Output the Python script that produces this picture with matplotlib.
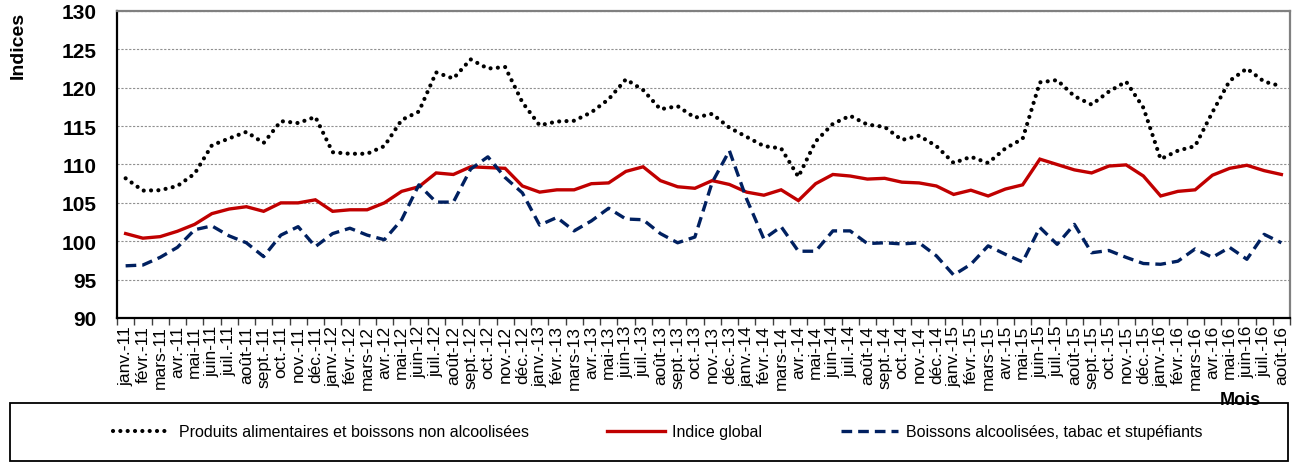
import numpy as np
import matplotlib
matplotlib.use("Agg")
import matplotlib.pyplot as plt
from matplotlib.patches import Rectangle

plt.rcParams['font.family'] = ['Liberation Sans', 'DejaVu Sans']

month_names = ["janv.", "févr.", "mars", "avr.", "mai", "juin", "juil.", "août",
               "sept.", "oct.", "nov.", "déc."]
years = ["11", "12", "13", "14", "15", "16"]
labels = [f"{m}-{y}" for y in years for m in month_names][:68]

alimentaires = [108.2, 106.6, 106.65, 107.2, 108.8, 112.5, 113.4, 114.25, 112.8, 115.65, 115.4, 116.2,
                111.6, 111.4, 111.4, 112.4, 115.8, 116.9, 122.0, 121.2, 123.7, 122.5, 122.7, 118.1,
                115.1, 115.6, 115.7, 116.8, 118.5, 121.1, 119.7, 117.2, 117.6, 116.1, 116.6, 114.8,
                113.6, 112.4, 112.1, 108.4, 113.0, 115.3, 116.35, 115.2, 114.9, 113.2, 113.75, 112.4,
                110.2, 111.0, 110.2, 112.1, 113.35, 120.7, 121.0, 118.9, 117.8, 119.5, 120.8, 117.4,
                110.7, 111.8, 112.4, 116.8, 120.9, 122.5, 120.8, 120.2]

global_idx = [101.0, 100.4, 100.6, 101.3, 102.2, 103.6, 104.2, 104.5, 103.9, 105.0, 105.0, 105.4,
              103.9, 104.1, 104.1, 105.0, 106.5, 107.1, 108.9, 108.7, 109.7, 109.6, 109.5, 107.2,
              106.4, 106.7, 106.7, 107.5, 107.6, 109.1, 109.7, 107.9, 107.1, 106.9, 107.9, 107.4,
              106.4, 106.0, 106.7, 105.3, 107.5, 108.7, 108.5, 108.1, 108.2, 107.7, 107.6, 107.2,
              106.1, 106.65, 105.9, 106.8, 107.35, 110.7, 110.0, 109.3, 108.9, 109.8, 109.95, 108.5,
              105.9, 106.5, 106.7, 108.6, 109.5, 109.9, 109.2, 108.7]

boissons = [96.8, 96.9, 97.9, 99.2, 101.5, 102.0, 100.7, 99.8, 98.0, 100.8, 101.9, 99.3,
            101.0, 101.7, 100.8, 100.2, 102.8, 107.35, 105.1, 105.1, 109.4, 111.0, 108.3, 106.3,
            102.1, 103.1, 101.35, 102.65, 104.3, 102.9, 102.8, 101.0, 99.8, 100.55, 107.65, 111.8,
            105.5, 100.3, 101.9, 98.7, 98.7, 101.35, 101.35, 99.7, 99.8, 99.65, 99.8, 98.1,
            95.6, 97.0, 99.4, 98.3, 97.3, 101.8, 99.6, 102.2, 98.5, 98.8, 97.9, 97.1,
            97.0, 97.4, 99.0, 97.9, 99.2, 97.65, 100.9, 99.8]

series_names = ["Produits alimentaires et boissons non alcoolisées", "Indice global",
                "Boissons alcoolisées, tabac et stupéfiants"]
y_ticks = [90, 95, 100, 105, 110, 115, 120, 125, 130]

W, H = 1294, 464
fig = plt.figure(figsize=(W / 100, H / 100), dpi=100)
ax = fig.add_axes([117 / W, 1 - 319 / H, (1290 - 117) / W, (319 - 12) / H])

x = np.arange(len(labels))
l1, = ax.plot(x, alimentaires, color='black', linewidth=3.0, linestyle=(0, (0.01, 1.75)),
              dash_capstyle='round', solid_capstyle='round')
l2, = ax.plot(x, global_idx, color='#C00000', linewidth=2.4, solid_joinstyle='miter')
l3, = ax.plot(x, boissons, color='#002060', linewidth=2.4, linestyle=(0, (3.2, 1.8)))

ax.set_xlim(-0.5, len(labels) - 0.5)
ax.set_ylim(90, 130)
ax.set_yticks(y_ticks)
ax.set_yticklabels([str(v) for v in y_ticks], fontsize=15, fontweight='bold')
ax.tick_params(axis='y', length=0, pad=15)

ax.set_xticks(x)
ax.set_xticklabels(labels, rotation=90, fontsize=12.5)
ax.set_xticks(np.arange(-0.5, len(labels), 1.0), minor=True)
ax.tick_params(axis='x', which='major', length=0, pad=5)
ax.tick_params(axis='x', which='minor', length=5, width=1, direction='out', color='#404040')

ax.yaxis.grid(True, color='#909090', linestyle=(0, (2, 1.5)), linewidth=0.8)
ax.set_axisbelow(True)

for side in ['left', 'bottom']:
    ax.spines[side].set_color('black')
    ax.spines[side].set_linewidth(1.6)
for side in ['top', 'right']:
    ax.spines[side].set_color('#808080')
    ax.spines[side].set_linewidth(1.6)

fig.text(18 / W, 1 - 45 / H, "Indices", rotation=90, fontsize=14, fontweight='bold',
         ha='center', va='center')

# legend frame
fig.patches.append(Rectangle((10 / W, 1 - 462 / H), (1288 - 10) / W, (462 - 404) / H,
                             transform=fig.transFigure, fill=False, edgecolor='black',
                             linewidth=1.3))
fig.text(1240 / W, 1 - 401 / H, "Mois", fontsize=13, fontweight='bold', ha='center', va='center')

leg = fig.legend([l1, l2, l3], series_names, loc='center', ncol=3,
                 bbox_to_anchor=(658 / W, 1 - 433 / H), frameon=False,
                 prop={'size': 11.5},
                 handlelength=3.6, handletextpad=0.5, columnspacing=4.9)

fig.savefig("out.png", dpi=100)
